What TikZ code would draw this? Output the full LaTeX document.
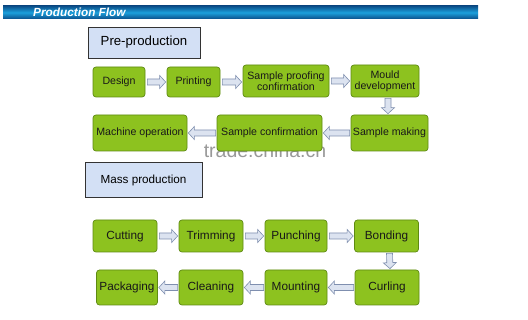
\documentclass[tikz,border=0pt]{standalone}
\usepackage{fontspec}
\setmainfont{Liberation Sans}
\usetikzlibrary{calc}
\definecolor{boxgreen}{HTML}{8DC21F}
\definecolor{boxedge}{HTML}{5E8A12}
\definecolor{arrfill}{HTML}{DCE3F0}
\definecolor{arredge}{HTML}{7F8FAF}
\definecolor{hdrfill}{HTML}{D3E0F5}
\definecolor{bandtop}{HTML}{0B4F8A}
\definecolor{bandmid}{HTML}{1BA0DC}
\tikzset{
  stage/.style={draw=boxedge, line width=0.7pt, fill=boxgreen, rounded corners=3pt,
    inner sep=1pt, align=center, font=\fontsize{10.6}{11.2}\selectfont, text=black!90},
  stagebig/.style={stage, font=\fontsize{11.8}{12.5}\selectfont},
  phase/.style={draw=black!80, line width=0.6pt, fill=hdrfill, inner sep=0pt, text=black},
  blockarr/.style={draw=arredge, fill=arrfill, line width=0.6pt, line join=miter}
}
\newcommand{\blockarrow}[2]{%
  \coordinate (S) at (#1);
  \coordinate (E) at (#2);
  \coordinate (H) at ($(E)!6pt!(S)$);
  \draw[blockarr] ($(S)!3pt!90:(E)$) -- ($(H)!3pt!-90:(S)$) -- ($(H)!6.5pt!-90:(S)$)
    -- (E) -- ($(H)!6.5pt!90:(S)$) -- ($(H)!3pt!90:(S)$) -- ($(S)!3pt!-90:(E)$) -- cycle;
}
\begin{document}
\begin{tikzpicture}[x=1pt,y=-1pt]
\useasboundingbox (0,0) rectangle (528,320);
\fill[white] (0,0) rectangle (528,320);
% banner
\shade[top color=bandtop, bottom color=bandtop, middle color=bandmid] (3,6) rectangle (478,19);
\node[anchor=west, text=white, font=\bfseries\itshape\fontsize{11.8}{12}\selectfont, inner sep=0pt] (title) at (33,12.5) {Production Flow};
% phase boxes
\node[phase, minimum width=112pt, minimum height=31pt, font=\fontsize{13.2}{14}\selectfont] (pre) at (144,42.5) {Pre-production};
% watermark
\node[text=black!40, font=\fontsize{19.5}{20}\selectfont, inner sep=0pt] (wm) at (265,151) {trade.china.cn};
\node[phase, minimum width=117pt, minimum height=35pt, font=\fontsize{11.7}{12}\selectfont] (mass) at (143.5,180) {Mass production};
% row 1
\node[stage, minimum width=52pt, minimum height=30pt] (design) at (119,82) {Design};
\node[stage, minimum width=53pt, minimum height=30pt] (print) at (193.5,82) {Printing};
\node[stage, minimum width=86pt, minimum height=32pt] (proof) at (286,81) {Sample proofing\\confirmation};
\node[stage, minimum width=68pt, minimum height=32pt] (mould) at (385,81) {Mould\\development};
% row 2
\node[stage, minimum width=77pt, minimum height=36pt] (smake) at (389.5,133) {Sample making};
\node[stage, minimum width=105pt, minimum height=36pt] (sconf) at (269.5,133) {Sample confirmation};
\node[stage, minimum width=94pt, minimum height=36pt] (mach) at (140,133) {Machine operation};
% row 3
\node[stagebig, minimum width=64pt, minimum height=32pt] (cut) at (125,236) {Cutting};
\node[stagebig, minimum width=64pt, minimum height=32pt] (trim) at (211,236) {Trimming};
\node[stagebig, minimum width=62pt, minimum height=32pt] (punch) at (296,236) {Punching};
\node[stagebig, minimum width=64pt, minimum height=32pt] (bond) at (386.5,236) {Bonding};
% row 4
\node[stagebig, minimum width=64pt, minimum height=35pt] (curl) at (387,287.5) {Curling};
\node[stagebig, minimum width=62pt, minimum height=35pt] (mount) at (296,287.5) {Mounting};
\node[stagebig, minimum width=64pt, minimum height=35pt] (clean) at (211,287.5) {Cleaning};
\node[stagebig, minimum width=61pt, minimum height=35pt] (pack) at (127,287.5) {Packaging};
% arrows
\blockarrow{$(design.east)+(2,0)$}{$(print.west)+(-1,0)$}
\blockarrow{$(print.east)+(2,0)$}{$(proof.west)+(-1,1)$}
\blockarrow{$(proof.east)+(2,0)$}{$(mould.west)+(-1,0)$}
\blockarrow{$(mould.south)+(3,1)$}{$(smake.north)+(-1.5,-1)$}
\blockarrow{$(smake.west)+(-1,0)$}{$(sconf.east)+(1,0)$}
\blockarrow{$(sconf.west)+(-1,0)$}{$(mach.east)+(1,0)$}
\blockarrow{$(cut.east)+(2,0)$}{$(trim.west)+(-1,0)$}
\blockarrow{$(trim.east)+(2,0)$}{$(punch.west)+(-1,0)$}
\blockarrow{$(punch.east)+(2,0)$}{$(bond.west)+(-1,0)$}
\blockarrow{$(bond.south)+(3,1)$}{$(curl.north)+(3,-1)$}
\blockarrow{$(curl.west)+(-1,0)$}{$(mount.east)+(1,0)$}
\blockarrow{$(mount.west)+(-1,0)$}{$(clean.east)+(1,0)$}
\blockarrow{$(clean.west)+(-1,0)$}{$(pack.east)+(1,0)$}
\end{tikzpicture}
\end{document}
